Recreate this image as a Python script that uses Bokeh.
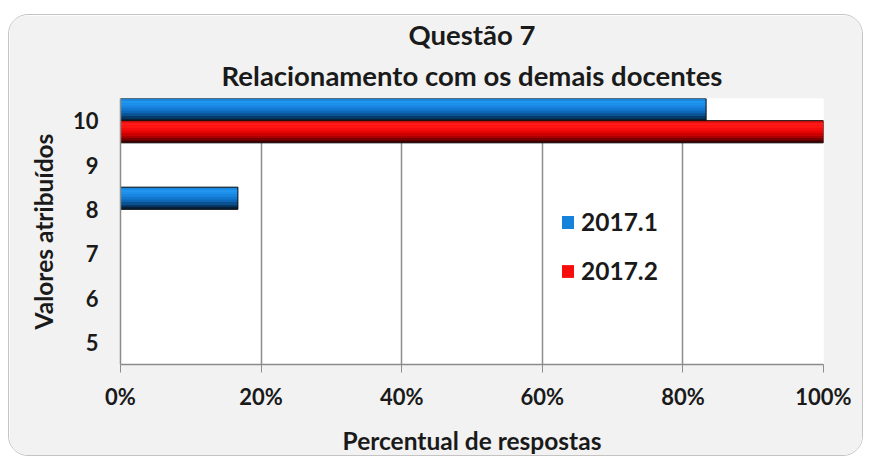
from bokeh.plotting import figure
from bokeh.models import (ColumnDataSource, FactorRange, Range1d, NumeralTickFormatter,
                          FixedTicker, Legend, LegendItem, Title)
from bokeh.transform import dodge
from bokeh.embed import file_html
from bokeh.resources import INLINE

# ---- data ----
categories = ["5", "6", "7", "8", "9", "10"]
series_names = ["2017.1", "2017.2"]
values_2017_1 = [0.0, 0.0, 0.0, 0.167, 0.0, 0.833]
values_2017_2 = [0.0, 0.0, 0.0, 0.0, 0.0, 1.0]
x_ticks = [0, 0.2, 0.4, 0.6, 0.8, 1.0]
title_lines = ["Questão 7", "Relacionamento com os demais docentes"]

FONT = "Lato"
TXT = "#1a1a1a"

p = figure(width=855, height=442, output_backend="svg", toolbar_location=None,
           y_range=FactorRange(*categories, range_padding=0),
           x_range=Range1d(0, 1),
           min_border_left=111, min_border_right=41, min_border_top=82, min_border_bottom=90,
           background_fill_color="white", border_fill_color="#f2f2f2")
p.styles = {"border": "1.5px solid #c4c4c4", "border-radius": "20px", "overflow": "hidden",
            "box-sizing": "border-box", "margin-top": "14px", "margin-left": "8px"}
p.outline_line_color = None

# bar styles: (series values, offset, legend color, gradient colours top -> bottom)
BAR_H = 0.5
styles = [
    (values_2017_1, 0.25, "#1582dc",
     ["#1a86dc", "#2196f0", "#1d90ec", "#1884e0", "#1277cf", "#0d66b6", "#0a5190", "#073a68", "#04203a"]),
    (values_2017_2, -0.25, "#f80d0d",
     ["#e81010", "#ff1a1a", "#ff1414", "#f60c0c", "#e60505", "#cc0000", "#a80000", "#780000", "#3c0000"]),
]

legend_items = []
for name, (vals, off, base, grad) in zip(series_names, styles):
    cats_nz = [c for c, v in zip(categories, vals) if v > 0]
    vals_nz = [v for v in vals if v > 0]
    src = ColumnDataSource(dict(y=cats_nz, x=vals_nz))
    r = p.hbar(y=dodge("y", off, range=p.y_range), right="x", left=0, height=BAR_H,
               source=src, fill_color=base, line_color=None)
    n = len(grad)
    for i, col in enumerate(grad):
        a, b = i / n, (i + 1) / n
        center = off + BAR_H / 2 - (a + b) / 2 * BAR_H
        p.hbar(y=dodge("y", center, range=p.y_range), right="x", left=0,
               height=(b - a) * BAR_H * 1.02, source=src, fill_color=col, line_color=None)
    p.hbar(y=dodge("y", off, range=p.y_range), right="x", left=0, height=BAR_H,
           source=src, fill_color=None, line_color="#101010", line_width=1)
    legend_items.append(LegendItem(label=name, renderers=[r]))

legend = Legend(items=legend_items, location=(440, 79), orientation="vertical",
                label_text_font=FONT, label_text_font_style="bold", label_text_font_size="24.5px",
                label_text_color=TXT, glyph_width=15, glyph_height=16, label_height=28,
                label_standoff=6, spacing=20, padding=0, margin=0,
                background_fill_alpha=0, border_line_color=None)
p.add_layout(legend)

# axes
p.xaxis.ticker = FixedTicker(ticks=x_ticks)
p.xaxis.formatter = NumeralTickFormatter(format="0%")
p.xaxis.axis_label = "Percentual de respostas"
p.yaxis.axis_label = "Valores atribuídos"
for ax in (p.xaxis[0], p.yaxis[0]):
    ax.axis_line_color = "#8c8c8c"
    ax.axis_line_width = 1.5
    ax.major_label_text_font = FONT
    ax.major_label_text_font_style = "bold"
    ax.major_label_text_font_size = "22px"
    ax.major_label_text_color = TXT
    ax.axis_label_text_font = FONT
    ax.axis_label_text_font_style = "bold"
    ax.axis_label_text_font_size = "24.5px"
    ax.axis_label_text_color = TXT
    ax.minor_tick_line_color = None
p.xaxis.major_tick_line_color = "#8c8c8c"
p.xaxis.major_tick_out = 8
p.xaxis.major_tick_in = 0
p.xaxis.major_label_standoff = 10
p.xaxis.axis_label_standoff = 13
p.yaxis.major_tick_line_color = None
p.yaxis.major_label_standoff = 16
p.yaxis.axis_label_standoff = 12

p.xgrid.ticker = FixedTicker(ticks=x_ticks)
p.xgrid.grid_line_color = "#8c8c8c"
p.xgrid.grid_line_width = 1.5
p.ygrid.grid_line_color = None

# titles (nearest to the plot added first)
p.add_layout(Title(text=title_lines[1], align="center",
                   text_font=FONT, text_font_style="bold", text_font_size="27.5px",
                   text_color=TXT, text_line_height=0.75, standoff=13), "above")
p.add_layout(Title(text=title_lines[0], align="center",
                   text_font=FONT, text_font_style="bold", text_font_size="27.5px",
                   text_color=TXT, text_line_height=0.65, standoff=0), "above")

open("out.html", "w").write(file_html(p, INLINE))
